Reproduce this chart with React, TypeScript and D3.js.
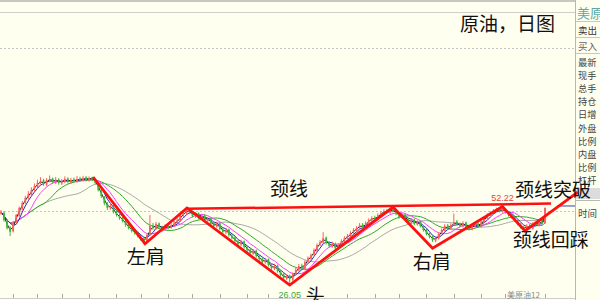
import React from 'react';
import * as d3 from 'd3';

// [open, high, low, close]
const candles: [number, number, number, number][] = [
  [50.0,51.2,49.6,50.5],[50.3,50.8,47.3,47.8],[47.6,48.0,44.6,45.1],[45.3,45.8,42.4,43.8],[44.0,47.5,43.6,47.1],
  [47.0,49.9,46.6,49.5],[49.2,52.4,48.9,51.9],[51.5,54.3,51.0,53.6],[53.9,56.0,53.2,55.3],[55.6,57.6,54.8,56.6],
  [56.3,58.9,55.9,58.0],[58.4,60.2,57.6,59.3],[59.0,61.5,58.6,60.4],[60.7,62.3,59.9,61.0],[61.3,61.8,59.4,60.0],
  [59.8,62.0,59.3,61.4],[61.2,62.9,60.6,61.7],[61.9,62.2,60.1,60.7],[60.5,62.4,60.0,61.4],[61.6,62.0,59.8,60.4],
  [60.2,61.7,59.7,61.0],[60.8,62.6,60.3,61.7],[61.9,62.3,60.2,60.7],[60.5,62.1,60.0,61.4],[61.6,62.2,60.5,61.0],
  [60.8,62.7,60.4,61.7],[61.9,62.5,60.8,61.4],[61.2,62.8,60.9,62.1],[62.3,62.7,60.9,61.4],[61.2,62.6,60.8,62.1],
  [62.3,62.5,61.0,61.7],[61.5,61.9,59.9,60.4],[60.2,60.6,57.5,58.0],[57.8,58.3,55.3,55.9],[55.6,56.0,52.8,53.6],
  [53.3,53.9,51.2,51.9],[51.7,53.5,51.3,52.6],[52.4,52.9,50.0,50.5],[50.7,51.3,49.0,49.5],[49.3,49.9,47.9,48.5],
  [48.7,49.2,47.0,47.5],[47.3,47.8,45.6,46.1],[46.3,46.9,44.6,45.1],[45.3,45.7,43.6,44.1],[43.9,44.6,42.8,43.4],
  [43.6,44.0,41.9,42.4],[42.2,42.8,40.8,41.4],[41.6,42.0,39.8,40.7],[40.5,43.2,40.2,42.7],[42.9,49.5,42.5,45.8],
  [46.0,46.8,44.5,45.1],[44.9,47.2,44.4,46.5],[46.7,47.0,44.9,45.4],[45.2,45.9,44.2,44.8],[44.6,46.4,44.2,45.8],
  [46.0,46.5,44.6,45.1],[45.3,46.7,44.9,46.1],[45.9,47.5,45.5,46.8],[47.0,48.4,46.6,47.8],[47.6,49.8,47.3,49.2],
  [49.4,50.8,48.9,50.2],[50.0,52.0,49.6,51.2],[51.4,51.8,49.9,50.5],[50.3,50.7,48.7,49.2],[49.0,50.5,48.6,49.9],
  [50.1,50.4,48.0,48.5],[48.3,49.9,47.9,49.2],[49.4,49.8,47.3,47.8],[47.6,48.9,47.2,48.2],[48.4,48.7,46.3,46.8],
  [46.6,47.1,45.3,45.8],[45.6,47.3,45.2,46.5],[46.7,47.0,44.3,44.8],[44.6,45.2,43.2,43.8],[43.6,45.1,43.1,44.4],
  [44.6,44.9,42.2,42.7],[42.5,43.1,41.2,41.7],[41.9,42.3,40.2,40.7],[40.5,41.1,39.2,39.7],[39.5,41.1,39.0,40.4],
  [40.6,40.9,38.1,38.7],[38.5,39.0,37.0,37.6],[37.8,38.3,36.1,36.6],[36.4,38.0,36.0,37.3],[37.5,37.8,35.1,35.6],
  [35.4,36.0,34.0,34.6],[34.8,35.2,33.0,33.6],[33.4,35.0,33.0,34.3],[34.5,34.8,32.1,32.6],[32.4,33.0,31.0,31.5],
  [31.3,33.0,30.9,32.2],[32.4,32.7,30.0,30.5],[30.3,30.8,28.7,29.2],[29.4,29.8,27.6,28.2],[28.0,29.5,27.5,28.8],
  [29.0,29.3,26.05,27.8],[27.6,30.0,27.2,29.5],[29.7,31.6,29.3,30.9],[30.7,32.9,30.3,32.2],[32.4,33.0,31.0,31.5],
  [31.3,34.2,31.0,33.6],[33.8,35.5,33.3,34.9],[34.7,36.5,34.3,35.9],[36.1,38.2,35.7,37.6],[37.4,39.9,37.0,39.3],
  [39.5,41.0,39.0,40.4],[40.2,43.7,39.8,41.7],[41.9,42.2,39.5,40.0],[40.2,40.6,38.5,39.0],[38.8,40.5,38.4,39.7],
  [39.9,40.2,37.8,38.3],[38.1,39.9,37.8,39.3],[39.5,41.3,39.1,40.7],[40.5,42.3,40.1,41.7],[41.9,43.1,41.4,42.4],
  [42.2,44.0,41.8,43.4],[43.6,45.1,43.2,44.4],[44.2,45.7,43.8,45.1],[45.3,46.8,44.9,46.1],[46.3,46.8,44.9,45.4],
  [45.2,47.4,44.9,46.8],[47.0,48.4,46.6,47.8],[47.6,49.1,47.2,48.5],[48.7,49.3,47.6,48.2],[48.0,50.1,47.6,49.5],
  [49.7,50.8,49.2,50.2],[50.0,51.5,49.6,50.9],[51.1,51.6,50.0,50.5],[50.3,52.0,49.9,51.5],[51.7,52.1,50.4,50.9],
  [50.7,51.2,49.4,49.9],[50.1,50.4,48.3,48.8],[48.6,50.1,48.2,49.5],[49.7,50.0,47.7,48.2],[48.0,48.6,46.6,47.1],
  [46.9,48.4,46.5,47.8],[48.0,48.3,46.0,46.5],[46.3,47.7,45.9,47.1],[47.3,47.6,45.3,45.8],[45.6,46.0,43.9,44.4],
  [44.6,44.9,42.6,43.1],[42.9,43.5,41.6,42.1],[42.3,42.6,40.4,41.0],[40.8,42.3,40.3,41.7],[41.5,43.7,41.2,43.1],
  [43.3,45.0,42.9,44.4],[44.2,46.4,43.9,45.8],[46.0,46.5,44.6,45.1],[44.9,46.7,44.5,46.1],[46.3,50.0,45.9,47.1],
  [47.3,47.8,46.0,46.5],[46.7,47.0,45.3,45.8],[45.6,47.4,45.3,46.8],[47.0,47.3,44.9,45.4],[45.6,46.0,44.3,44.8],
  [44.6,46.4,44.3,45.8],[45.6,47.1,45.2,46.5],[46.7,47.0,45.3,45.8],[45.6,47.7,45.3,47.1],[47.3,49.1,46.9,48.5],
  [48.3,50.1,48.0,49.5],[49.7,50.8,49.2,50.2],[50.0,51.5,49.6,50.9],[51.1,52.0,50.6,51.5],[51.7,52.0,50.4,50.9],
  [50.7,52.22,50.3,51.5],[51.3,51.7,50.0,50.5],[50.3,50.8,49.0,49.5],[49.7,50.1,48.3,48.8],[48.6,49.0,47.3,47.8],
  [47.6,48.0,46.0,46.5],[46.3,46.8,44.9,45.4],[45.2,45.8,44.2,44.8],[44.6,46.4,44.3,45.8],[46.0,46.5,44.6,45.1],
  [44.9,47.1,44.6,46.5],[46.7,47.2,45.6,46.1],[45.9,48.1,45.6,47.5],[47.7,48.0,46.0,46.5],[46.8,52.1,46.5,51.9],
];

const maPeriods = [2, 4, 8, 15, 26];
const maColors = ['#202020', '#2828c8', '#ff3cff', '#30a830', '#a8a8a8'];
const gridPrices = [106.1, 50.88];
const monthTicks = [4, 12, 20, 29, 38, 46, 55, 63, 72, 81, 88, 114, 123, 131, 140, 149, 158, 166, 179];
const highMark = { i: 165, v: 52.22 };
const lowMark = { i: 95, v: 26.05 };
// pattern zigzag drawn by hand: [candle index, price]
const zigzag: [number, number][] = [
  [30.3, 62.4], [47.4, 39.8], [61.2, 51.9], [95.0, 25.8], [129.0, 52.2],
  [142.0, 38.3], [165.0, 52.4], [172.4, 44.1], [189.8, 57.3],
];
const neckline: [number, number][] = [[61.2, 51.6], [181.0, 53.4]];
const notes = [
  { text: '颈线', i: 88.5, p: 55.95 },
  { text: '左肩', i: 41.4, p: 32.9 },
  { text: '头', i: 100.3, p: 19.8 },
  { text: '右肩', i: 135.5, p: 31.2 },
  { text: '颈线突破', i: 169.1, p: 55.6 },
  { text: '颈线回踩', i: 168.4, p: 38.7 },
];
const title = '原油，日图';
const panelName = '美原';
const panelTop = ['卖出', '买入'];
const panelRows = ['最新', '现手', '总手', '持仓', '日增', '外盘', '比例', '内盘', '比例', '杠杆'];
const contractName = '美原油12';

const CJK = '"Noto Sans CJK SC", "Noto Sans", sans-serif';
const SANS = '"Liberation Sans", Arial, sans-serif';

export default function App() {
  const W = 600, H = 300;
  const x = d3.scaleLinear().domain([0, candles.length - 1]).range([1, 545]);
  const y = d3.scaleLinear().domain([21.4, 118.3]).range([298, 12]);
  const closes = candles.map((c) => c[3]);
  const mas = maPeriods.map((p) =>
    closes.map((_, i) => d3.mean(closes.slice(Math.max(0, i - p + 1), i + 1)) as number)
  );
  const lineGen = d3.line<number>().x((_, i) => x(i)).y((v) => y(v));
  const polyGen = d3.line<[number, number]>().x((d) => x(d[0])).y((d) => y(d[1]));
  const bw = 1.8;
  const up = '#ff5e5e';
  const down = '#3cb83c';
  const lastY = y(closes[closes.length - 1]) - 2;

  return (
    <div style={{ position: 'fixed', left: 0, top: 0, width: W, height: H, background: '#fffff0' }}>
      <svg width={W} height={H} style={{ display: 'block' }}>
        <rect x={0} y={0} width={W} height={H} fill="#fffff0" />
        {/* frame lines */}
        <line x1={0} x2={575} y1={1} y2={1} stroke="#c8c8c0" strokeWidth={2} />
        <line x1={0} x2={575} y1={12.5} y2={12.5} stroke="#d0d0c8" strokeWidth={1} />
        {gridPrices.map((g, k) => (
          <line key={k} x1={0} x2={575} y1={Math.round(y(g)) + 0.5} y2={Math.round(y(g)) + 0.5}
            stroke="#c4c4c4" strokeDasharray="2,2" strokeWidth={1} />
        ))}
        <line x1={0} x2={575} y1={298.5} y2={298.5} stroke="#cfcfc8" strokeWidth={1} />
        {monthTicks.map((t) => (
          <line key={t} x1={Math.round(x(t)) + 0.5} x2={Math.round(x(t)) + 0.5} y1={294} y2={298}
            stroke="#a8a8a8" strokeWidth={1} />
        ))}
        <text x={507} y={298} fontSize={8} fill="#8a8a8a" fontFamily={CJK}>{contractName}</text>

        {/* right panel */}
        <line x1={575.5} x2={575.5} y1={0} y2={300} stroke="#b8b8b0" strokeWidth={1} />
        <text x={577} y={18} fontSize={13} fill="#5aa8a8" fontFamily={CJK}>{panelName}</text>
        <line x1={576} x2={600} y1={21.5} y2={21.5} stroke="#c8c8c0" />
        <line x1={576} x2={600} y1={37.5} y2={37.5} stroke="#c8c8c0" />
        <line x1={576} x2={600} y1={53.5} y2={53.5} stroke="#c8c8c0" />
        {panelTop.map((t, k) => (
          <text key={t} x={578} y={34 + k * 16} fontSize={9.5} fill={k === 0 ? '#333' : '#666'} fontFamily={CJK}>{t}</text>
        ))}
        {panelRows.map((t, k) => (
          <text key={k} x={578} y={65.5 + k * 13.2} fontSize={9.2} fill="#444" fontFamily={CJK}>{t}</text>
        ))}
        <rect x={576} y={188} width={24} height={11} fill="#dcdcdc" />
        <line x1={576} x2={600} y1={200.5} y2={200.5} stroke="#b8b8b0" />
        <text x={578} y={217} fontSize={9.5} fill="#444" fontFamily={CJK}>时间</text>

        {/* moving averages */}
        {mas.slice().reverse().map((m, k) => {
          const idx = mas.length - 1 - k;
          return <path key={idx} d={lineGen(m) || ''} fill="none" stroke={maColors[idx]} strokeWidth={1} />;
        })}

        {/* candles */}
        {candles.map((c, i) => {
          const [o, h, l, cl] = c;
          const col = cl >= o ? up : down;
          const cx = x(i);
          const top = y(Math.max(o, cl));
          const bot = y(Math.min(o, cl));
          return (
            <g key={i}>
              <line x1={cx} x2={cx} y1={y(h)} y2={y(l)} stroke={col} strokeWidth={1} />
              <rect x={cx - bw / 2} y={top} width={bw} height={Math.max(1, bot - top)} fill={col} />
            </g>
          );
        })}

        {/* last price marker */}
        <line x1={557} x2={575} y1={lastY} y2={lastY} stroke="#3a3aa8" strokeWidth={1} />

        {/* pattern lines */}
        <path d={polyGen(neckline) || ''} fill="none" stroke="#ff1010" strokeWidth={2.5} />
        <path d={polyGen(zigzag) || ''} fill="none" stroke="#ff1010" strokeWidth={2.8} strokeLinejoin="miter" />

        {/* extreme labels */}
        <text x={x(highMark.i)} y={y(highMark.v) - 6} fontSize={9} fill="#e83c3c" textAnchor="middle" fontFamily={SANS}>
          {highMark.v.toFixed(2)}
        </text>
        <text x={x(lowMark.i)} y={298} fontSize={9} fill="#3aa83a" textAnchor="middle" fontFamily={SANS}>
          {lowMark.v.toFixed(2)}
        </text>

        {/* annotations */}
        {notes.map((n, k) => (
          <text key={k} x={x(n.i)} y={y(n.p)} fontSize={19} fill="#111" fontFamily={CJK}>{n.text}</text>
        ))}
        <text x={460} y={31} fontSize={19} fill="#111" fontFamily={CJK}>{title}</text>
      </svg>
    </div>
  );
}
